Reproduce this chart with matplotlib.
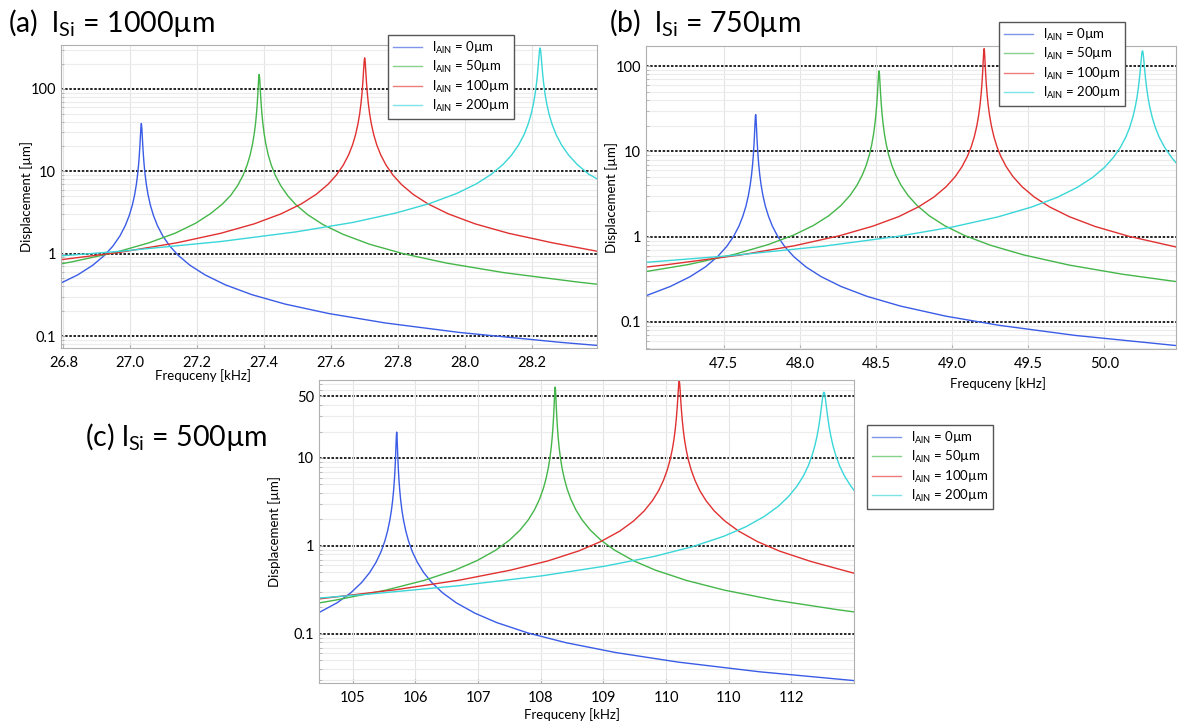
import numpy as np
import matplotlib
matplotlib.use('Agg')
import matplotlib.pyplot as plt
from matplotlib.lines import Line2D
from matplotlib.ticker import FixedLocator, LogLocator, NullFormatter

plt.rcParams['font.family'] = ['Lato', 'DejaVu Sans']
plt.rcParams['mathtext.fontset'] = 'custom'
plt.rcParams['mathtext.rm'] = 'Lato'

# ---- panel (a): l_Si = 1000um ----
a_f0 = [26.793, 26.843, 26.888, 26.923, 26.948, 26.969, 26.985, 26.997, 27.006, 27.013, 27.018, 27.022,
        27.025, 27.027, 27.0285, 27.030, 27.0315, 27.033, 27.0345, 27.036, 27.0375, 27.039, 27.041, 27.044,
        27.048, 27.053, 27.06, 27.069, 27.081, 27.097, 27.118, 27.143, 27.178, 27.223, 27.283, 27.363,
        27.463, 27.593, 27.763, 27.983, 28.283, 28.394]
a_y0 = [0.44, 0.553, 0.724, 0.955, 1.235, 1.64, 2.19, 2.92, 3.87, 5.2, 6.88, 9.25,
        12.4, 15.9, 19.8, 25.6, 33.1, 38, 33.1, 25.6, 19.8, 15.9, 12.4, 9.25,
        6.88, 5.2, 3.87, 2.92, 2.19, 1.64, 1.235, 0.955, 0.724, 0.553, 0.42, 0.318,
        0.244, 0.1875, 0.1439, 0.1106, 0.084, 0.077]
a_f50 = [26.793, 26.825, 26.955, 27.055, 27.135, 27.195, 27.24, 27.275, 27.30, 27.321, 27.337, 27.349,
         27.358, 27.365, 27.37, 27.374, 27.377, 27.379, 27.3805, 27.382, 27.3835, 27.385, 27.3865, 27.388,
         27.3895, 27.391, 27.393, 27.396, 27.40, 27.405, 27.412, 27.421, 27.433, 27.449, 27.47, 27.495,
         27.53, 27.575, 27.635, 27.715, 27.815, 27.945, 28.115, 28.335, 28.394]
a_y50 = [0.752, 0.795, 1.035, 1.35, 1.78, 2.34, 3.07, 4.0, 5.1, 6.75, 8.96, 11.9,
         15.8, 21.3, 28.2, 37.8, 50.6, 64.7, 80.6, 103.6, 132.8, 150, 132.8, 103.6,
         80.6, 64.7, 50.6, 37.8, 28.2, 21.3, 15.8, 11.9, 8.96, 6.72, 5.06, 3.91,
         2.97, 2.26, 1.72, 1.30, 1.0, 0.768, 0.589, 0.453, 0.426]
a_f100 = [26.793, 26.97, 27.14, 27.27, 27.37, 27.45, 27.51, 27.555, 27.59, 27.615, 27.636, 27.652,
          27.664, 27.673, 27.68, 27.685, 27.689, 27.692, 27.694, 27.6955, 27.697, 27.6985, 27.70, 27.7015,
          27.703, 27.7045, 27.706, 27.708, 27.711, 27.715, 27.72, 27.727, 27.736, 27.748, 27.764, 27.785,
          27.81, 27.845, 27.89, 27.95, 28.03, 28.13, 28.26, 28.394]
a_y100 = [0.845, 1.04, 1.357, 1.767, 2.30, 3.04, 4.0, 5.24, 6.91, 8.94, 11.86, 15.8,
          21.0, 27.95, 37.5, 49.5, 66.3, 88.2, 111.8, 137.6, 173, 215, 238, 215,
          173, 137.6, 111.8, 88.2, 66.3, 49.5, 37.5, 27.95, 21.0, 15.8, 11.86, 8.94,
          6.91, 5.24, 4.0, 3.04, 2.30, 1.767, 1.357, 1.07]
a_f200 = [26.793, 26.974, 27.274, 27.494, 27.664, 27.794, 27.894, 27.974, 28.034, 28.079, 28.114, 28.139,
          28.16, 28.176, 28.188, 28.197, 28.204, 28.209, 28.213, 28.216, 28.218, 28.2195, 28.221, 28.2225,
          28.224, 28.2255, 28.227, 28.2285, 28.230, 28.232, 28.235, 28.239, 28.244, 28.251, 28.26, 28.272,
          28.288, 28.309, 28.334, 28.369, 28.394]
a_y200 = [0.94, 1.072, 1.41, 1.836, 2.39, 3.12, 4.06, 5.36, 7.05, 9.24, 12.18, 15.76,
          20.9, 27.8, 37.0, 49.0, 65.5, 85.9, 113.6, 147.8, 182, 216, 257, 296,
          314, 296, 257, 216, 182, 147.8, 113.6, 85.9, 65.5, 49.0, 37.0, 27.8,
          20.9, 15.76, 12.18, 9.24, 8.1]

# ---- panel (b): l_Si = 750um ----
b_f0 = [46.99, 47.15, 47.28, 47.38, 47.46, 47.52, 47.565, 47.60, 47.625, 47.646, 47.662, 47.674,
        47.683, 47.69, 47.695, 47.699, 47.702, 47.704, 47.706, 47.708, 47.71, 47.712, 47.714, 47.716,
        47.718, 47.721, 47.725, 47.73, 47.737, 47.746, 47.758, 47.774, 47.795, 47.82, 47.855, 47.90,
        47.96, 48.04, 48.14, 48.27, 48.44, 48.66, 48.96, 49.31, 49.81, 50.48]
b_y0 = [0.203, 0.261, 0.340, 0.442, 0.584, 0.768, 1.007, 1.327, 1.72, 2.27, 3.02, 4.01,
        5.30, 7.05, 9.16, 11.9, 15.1, 18.1, 21.7, 25.4, 27, 25.4, 21.7, 18.1,
        15.1, 11.9, 9.16, 7.05, 5.30, 4.01, 3.02, 2.27, 1.72, 1.327, 1.007, 0.768,
        0.584, 0.442, 0.340, 0.261, 0.2, 0.1537, 0.1168, 0.0913, 0.0695, 0.0527]
b_f50 = [46.99, 47.27, 47.57, 47.79, 47.96, 48.09, 48.19, 48.27, 48.33, 48.375, 48.41, 48.435,
         48.456, 48.472, 48.484, 48.493, 48.50, 48.505, 48.509, 48.512, 48.514, 48.516, 48.518, 48.52,
         48.522, 48.524, 48.526, 48.528, 48.531, 48.535, 48.54, 48.547, 48.556, 48.568, 48.584, 48.605,
         48.63, 48.665, 48.71, 48.77, 48.85, 48.95, 49.08, 49.25, 49.47, 49.77, 50.12, 50.48]
b_y50 = [0.39, 0.472, 0.62, 0.805, 1.045, 1.355, 1.758, 2.32, 3.05, 4.0, 5.27, 6.80,
         9.01, 11.97, 15.85, 20.9, 27.5, 35.4, 45.2, 55.9, 65.0, 75.1, 84.1, 88,
         84.1, 75.1, 65.0, 55.9, 45.2, 35.4, 27.5, 20.9, 15.85, 11.97, 9.01, 6.80,
         5.27, 4.0, 3.05, 2.32, 1.758, 1.349, 1.036, 0.795, 0.611, 0.464, 0.3625, 0.296]
b_f100 = [46.99, 47.11, 47.61, 47.96, 48.26, 48.48, 48.65, 48.78, 48.88, 48.96, 49.02, 49.065,
          49.10, 49.125, 49.146, 49.162, 49.174, 49.183, 49.19, 49.195, 49.199, 49.202, 49.204, 49.206,
          49.208, 49.21, 49.212, 49.214, 49.216, 49.218, 49.221, 49.225, 49.23, 49.237, 49.246, 49.258,
          49.274, 49.295, 49.32, 49.355, 49.40, 49.46, 49.54, 49.64, 49.77, 49.94, 50.16, 50.48]
b_y100 = [0.44, 0.465, 0.61, 0.78, 1.025, 1.33, 1.72, 2.24, 2.91, 3.84, 5.05, 6.62,
          8.73, 11.26, 14.93, 19.85, 26.3, 34.7, 46.0, 59.4, 76.6, 96, 113.1, 133.1,
          151.8, 160, 151.8, 133.1, 113.1, 96, 76.6, 59.4, 46.0, 34.7, 26.3, 19.85,
          14.93, 11.26, 8.73, 6.62, 5.05, 3.84, 2.91, 2.233, 1.714, 1.315, 1.011, 0.75]
b_f200 = [46.99, 47.55, 48.15, 48.65, 49.0, 49.30, 49.52, 49.69, 49.82, 49.92, 50.0, 50.06,
          50.105, 50.14, 50.165, 50.186, 50.202, 50.214, 50.223, 50.23, 50.235, 50.239, 50.242, 50.244,
          50.246, 50.248, 50.25, 50.252, 50.254, 50.256, 50.258, 50.261, 50.265, 50.27, 50.277, 50.286,
          50.298, 50.314, 50.335, 50.36, 50.395, 50.44, 50.47]
b_y200 = [0.50, 0.60, 0.771, 1.0125, 1.296, 1.705, 2.22, 2.89, 3.77, 4.91, 6.48, 8.53,
          11.17, 14.66, 18.9, 25.0, 32.9, 43.1, 55.8, 71.4, 87.9, 105.6, 121.3, 132.0,
          141.8, 148.8, 151, 148.8, 141.8, 132.0, 121.3, 105.6, 87.9, 71.4, 55.8, 43.1,
          32.9, 25.0, 18.9, 14.66, 11.17, 8.53, 7.36]

# ---- panel (c): l_Si = 500um ----
c_f0 = [104.46, 104.75, 104.97, 105.14, 105.27, 105.37, 105.45, 105.51, 105.555, 105.59, 105.615, 105.636,
        105.652, 105.664, 105.673, 105.68, 105.685, 105.69, 105.695, 105.70, 105.705, 105.71, 105.715, 105.72,
        105.727, 105.736, 105.748, 105.764, 105.785, 105.81, 105.845, 105.89, 105.95, 106.03, 106.13, 106.26,
        106.43, 106.65, 106.95, 107.30, 107.80, 108.40, 109.20, 110.20, 111.50, 113.0]
c_y0 = [0.175, 0.2263, 0.2945, 0.384, 0.50, 0.652, 0.86, 1.132, 1.483, 1.955, 2.51, 3.31,
        4.37, 5.72, 7.38, 9.44, 11.6, 14.5, 17.9, 19.7, 17.9, 14.5, 11.6, 9.44,
        7.38, 5.72, 4.37, 3.31, 2.51, 1.955, 1.483, 1.132, 0.86, 0.652, 0.50, 0.384,
        0.2945, 0.2263, 0.172, 0.1344, 0.1024, 0.0796, 0.0614, 0.0478, 0.0371, 0.0295]
c_f50 = [104.46, 104.73, 105.53, 106.13, 106.63, 106.98, 107.28, 107.50, 107.67, 107.80, 107.90, 107.98,
         108.04, 108.085, 108.12, 108.145, 108.166, 108.182, 108.194, 108.203, 108.21, 108.215, 108.22, 108.225,
         108.23, 108.235, 108.24, 108.245, 108.25, 108.257, 108.266, 108.278, 108.294, 108.315, 108.34, 108.375,
         108.42, 108.48, 108.56, 108.66, 108.79, 108.96, 109.18, 109.48, 109.83, 110.33, 110.93, 111.73,
         112.73, 113.0]
c_y50 = [0.225, 0.243, 0.315, 0.405, 0.531, 0.68, 0.895, 1.164, 1.518, 1.977, 2.576, 3.4,
         4.47, 5.86, 7.67, 9.88, 13.0, 17.06, 22.1, 28.2, 35.4, 42.4, 51.1, 59.8,
         64, 59.8, 51.1, 42.4, 35.4, 28.2, 22.1, 17.06, 13.0, 9.88, 7.67, 5.86,
         4.47, 3.4, 2.576, 1.977, 1.518, 1.164, 0.895, 0.68, 0.531, 0.405, 0.315, 0.243,
         0.189, 0.178]
c_f100 = [104.46, 105.71, 106.71, 107.51, 108.11, 108.61, 108.96, 109.26, 109.48, 109.65, 109.78, 109.88,
          109.96, 110.02, 110.065, 110.10, 110.125, 110.146, 110.162, 110.174, 110.183, 110.19, 110.195, 110.20,
          110.205, 110.21, 110.215, 110.22, 110.225, 110.23, 110.237, 110.246, 110.258, 110.274, 110.295, 110.32,
          110.355, 110.40, 110.46, 110.54, 110.64, 110.77, 110.94, 111.16, 111.46, 111.81, 112.31, 113.0]
c_y100 = [0.25, 0.32, 0.41, 0.53, 0.675, 0.88, 1.125, 1.474, 1.918, 2.5, 3.256, 4.24,
          5.6, 7.35, 9.58, 12.55, 16.1, 21.0, 27.2, 34.5, 42.6, 51.1, 58.4, 66.0,
          72.3, 75, 72.3, 66.0, 58.4, 51.1, 42.6, 34.5, 27.2, 21.0, 16.1, 12.55,
          9.58, 7.35, 5.6, 4.24, 3.256, 2.5, 1.918, 1.474, 1.12, 0.875, 0.667, 0.49]
c_f200 = [104.46, 105.22, 106.72, 108.02, 109.02, 109.82, 110.42, 110.92, 111.27, 111.57, 111.79, 111.96,
          112.09, 112.19, 112.27, 112.33, 112.375, 112.41, 112.435, 112.456, 112.472, 112.484, 112.493, 112.50,
          112.505, 112.51, 112.515, 112.52, 112.525, 112.53, 112.535, 112.54, 112.547, 112.556, 112.568, 112.584,
          112.605, 112.63, 112.665, 112.71, 112.77, 112.85, 112.95, 113.0]
c_y200 = [0.256, 0.282, 0.355, 0.458, 0.589, 0.763, 0.981, 1.2875, 1.648, 2.17, 2.82, 3.68,
          4.79, 6.2, 8.15, 10.65, 13.77, 17.76, 22.2, 27.9, 34.1, 40.0, 45.1, 49.2,
          51.8, 54.0, 55.5, 56, 55.5, 54.0, 51.8, 49.2, 45.1, 40.0, 34.1, 27.9,
          22.2, 17.76, 13.77, 10.65, 8.15, 6.2, 4.79, 4.29]

labels = [r'l$_{\mathrm{AlN}}$ = 0µm', r'l$_{\mathrm{AlN}}$ = 50µm',
          r'l$_{\mathrm{AlN}}$ = 100µm', r'l$_{\mathrm{AlN}}$ = 200µm']
colors = ['#3a5ce6', '#45b64a', '#e03131', '#3ad6d8']
legend_colors = ['#7f95ee', '#86d28a', '#ec7b7b', '#7ee4e6']

a_xticks = [26.8, 27.0, 27.2, 27.4, 27.6, 27.8, 28.0, 28.2]
a_xlabels = ['26.8', '27.0', '27.2', '27.4', '27.6', '27.8', '28.0', '28.2']
b_xticks = [47.5, 48.0, 48.5, 49.0, 49.5, 50.0]
b_xlabels = ['47.5', '48.0', '48.5', '49.0', '49.5', '50.0']
c_xticks = [105, 106, 107, 108, 109, 110, 111, 112]
c_xlabels = ['105', '106', '107', '108', '109', '110', '110', '112']
ab_yticks = [0.1, 1, 10, 100]
ab_ylabels = ['0.1', '1', '10', '100']
c_yticks = [0.1, 1, 10, 50]
c_ylabels = ['0.1', '1', '10', '50']

W, H = 1178, 725
fig = plt.figure(figsize=(W / 100, H / 100), dpi=100)


def box(left, top, right, bottom):
    return [left / W, 1 - bottom / H, (right - left) / W, (bottom - top) / H]


def panel(rect, curves, xlim, ylim, xticks, xlabels, yticks, ylabels, leg_xy, xlab_pos, ylab_pos):
    ax = fig.add_axes(rect)
    ax.set_yscale('log')
    for (f, y), c in zip(curves, colors):
        ax.plot(f, y, color=c, lw=1.0)
    ax.set_xlim(xlim)
    ax.set_ylim(ylim)
    ax.xaxis.set_major_locator(FixedLocator(xticks))
    ax.set_xticklabels(xlabels)
    ax.yaxis.set_major_locator(FixedLocator(yticks))
    ax.set_yticklabels(ylabels)
    ax.yaxis.set_minor_locator(LogLocator(base=10, subs=np.arange(2, 10)))
    ax.yaxis.set_minor_formatter(NullFormatter())
    ax.grid(which='major', axis='x', color='#e4e4e4', lw=0.8)
    ax.grid(which='minor', axis='y', color='#ececec', lw=0.8)
    for yt in yticks:
        ax.axhline(yt, color='black', lw=1.2, ls=(0, (1.5, 1)), zorder=1)
    for s in ax.spines.values():
        s.set_color('#b0b0b0')
    ax.tick_params(which='both', direction='in', color='#b0b0b0', labelsize=10.5)
    ax.tick_params(which='major', length=3)
    ax.tick_params(which='minor', length=2)
    ax.tick_params(axis='x', pad=6)
    ax.set_xlabel('Frequceny [kHz]', fontsize=9.5)
    ax.set_ylabel('Displacement [µm]', fontsize=9.5)
    ax.xaxis.set_label_coords(*xlab_pos)
    ax.yaxis.set_label_coords(*ylab_pos)
    handles = [Line2D([], [], color=c, lw=1.0) for c in legend_colors]
    leg = ax.legend(handles, labels, loc='upper left', bbox_to_anchor=leg_xy,
                    bbox_transform=fig.transFigure, borderaxespad=0, fancybox=False,
                    edgecolor='#555555', framealpha=1, fontsize=9.5, handlelength=2.2,
                    labelspacing=0.25, borderpad=0.35)
    leg.get_frame().set_linewidth(1.0)
    return ax


panel(box(61, 45, 597, 348),
      [(a_f0, a_y0), (a_f50, a_y50), (a_f100, a_y100), (a_f200, a_y200)],
      (26.793, 28.394), (0.0716, 341), a_xticks, a_xlabels, ab_yticks, ab_ylabels,
      (388 / W, 1 - 35 / H), (0.265, -0.069), (-0.052, 0.5))
panel(box(646, 46, 1176, 349),
      [(b_f0, b_y0), (b_f50, b_y50), (b_f100, b_y100), (b_f200, b_y200)],
      (46.99, 50.47), (0.0482, 172), b_xticks, b_xlabels, ab_yticks, ab_ylabels,
      (999 / W, 1 - 22 / H), (0.664, -0.092), (-0.053, 0.5))
panel(box(319, 380, 854, 683),
      [(c_f0, c_y0), (c_f50, c_y50), (c_f100, c_y100), (c_f200, c_y200)],
      (104.46, 113.0), (0.0277, 77), c_xticks, c_xlabels, c_yticks, c_ylabels,
      (867 / W, 1 - 425 / H), (0.473, -0.083), (-0.071, 0.5))

fig.text(8 / W, 1 - 23 / H, r'(a)  l$_{\mathrm{Si}}$ = 1000µm', fontsize=20.5, va='center', ha='left')
fig.text(609 / W, 1 - 23 / H, r'(b)  l$_{\mathrm{Si}}$ = 750µm', fontsize=20.5, va='center', ha='left')
fig.text(85 / W, 1 - 437 / H, r'(c) l$_{\mathrm{Si}}$ = 500µm', fontsize=20.5, va='center', ha='left')

fig.savefig('out.png', dpi=100)
